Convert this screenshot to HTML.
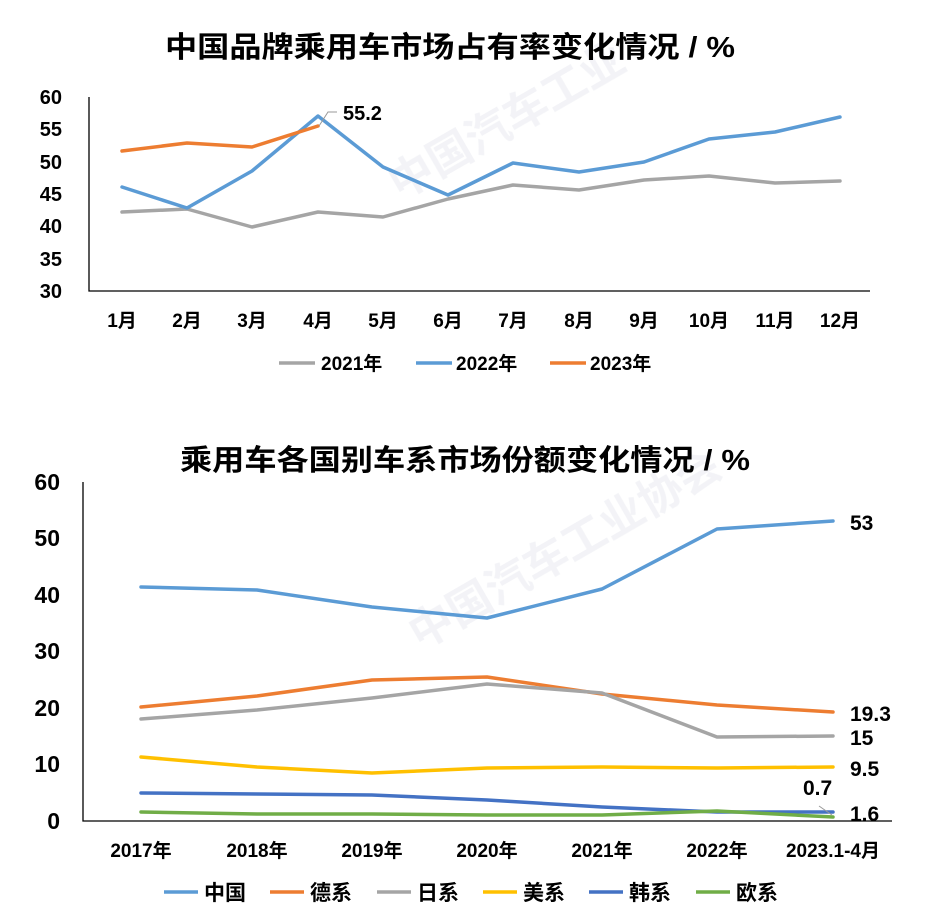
<!DOCTYPE html>
<html><head><meta charset="utf-8"><style>
html,body{margin:0;padding:0;background:#fff;}
svg{display:block;font-family:"Liberation Sans","Noto Sans CJK SC",sans-serif;font-weight:bold;}
</style></head><body>
<svg width="932" height="922" viewBox="0 0 932 922">
<g fill="#f0f1f5" opacity="0.8">
<text x="400" y="200" transform="rotate(-30 400 200)" font-size="44">中国汽车工业</text>
<text x="420" y="650" transform="rotate(-30 420 650)" font-size="44">中国汽车工业协会</text>
</g>
<text x="165" y="57" textLength="570" lengthAdjust="spacingAndGlyphs" font-size="29" fill="#000">中国品牌乘用车市场占有率变化情况 / %</text>
<g font-size="20" fill="#000" text-anchor="end">
<text x="62" y="104">60</text><text x="62" y="136">55</text><text x="62" y="169">50</text><text x="62" y="201">45</text><text x="62" y="233">40</text><text x="62" y="266">35</text><text x="62" y="298">30</text>
</g>
<polyline points="89,97 89,291 870,291" fill="none" stroke="#000" stroke-width="1.3"/>
<g font-size="19" fill="#000" text-anchor="middle">
<text x="122" y="327">1月</text><text x="187" y="327">2月</text><text x="252" y="327">3月</text><text x="318" y="327">4月</text><text x="383" y="327">5月</text><text x="448" y="327">6月</text><text x="513" y="327">7月</text><text x="579" y="327">8月</text><text x="644" y="327">9月</text><text x="709" y="327">10月</text><text x="775" y="327">11月</text><text x="840" y="327">12月</text>
</g>
<g fill="none" stroke-width="3.5" stroke-linejoin="round" stroke-linecap="round">
<polyline stroke="#a5a5a5" points="122,212 187,209 252,227 318,212 383,217 448,199 513,185 579,190 644,180 709,176 775,183 840,181"/>
<polyline stroke="#5b9bd5" points="122,187 187,208 252,171 318,116 383,167 448,195 513,163 579,172 644,162 709,139 775,132 840,117"/>
<polyline stroke="#ed7d31" points="122,151 187,143 252,147 318,126"/>
</g>
<polyline points="319,126 328,112 337,112" fill="none" stroke="#999" stroke-width="1"/>
<text x="343" y="120" font-size="20" fill="#000">55.2</text>
<g font-size="19" fill="#000">
<line x1="279" y1="363" x2="315" y2="363" stroke="#a5a5a5" stroke-width="3.5"/><text x="321" y="370">2021年</text>
<line x1="416" y1="363" x2="452" y2="363" stroke="#5b9bd5" stroke-width="3.5"/><text x="456" y="370">2022年</text>
<line x1="550" y1="363" x2="586" y2="363" stroke="#ed7d31" stroke-width="3.5"/><text x="590" y="370">2023年</text>
</g>

<text x="180" y="470" textLength="570" lengthAdjust="spacingAndGlyphs" font-size="29" fill="#000">乘用车各国别车系市场份额变化情况 / %</text>
<g font-size="23" fill="#000" text-anchor="end">
<text x="60" y="490">60</text><text x="60" y="546">50</text><text x="60" y="603">40</text><text x="60" y="659">30</text><text x="60" y="716">20</text><text x="60" y="772">10</text><text x="60" y="829">0</text>
</g>
<polyline points="83,482 83,821 892,821" fill="none" stroke="#000" stroke-width="1.3"/>
<g font-size="19" fill="#000" text-anchor="middle">
<text x="141" y="857">2017年</text><text x="257" y="857">2018年</text><text x="372" y="857">2019年</text><text x="487" y="857">2020年</text><text x="602" y="857">2021年</text><text x="717" y="857">2022年</text><text x="833" y="857">2023.1-4月</text>
</g>
<g fill="none" stroke-width="3.5" stroke-linejoin="round" stroke-linecap="round">
<polyline stroke="#5b9bd5" points="141,587 257,590 372,607 487,618 602,589 717,529 833,521"/>
<polyline stroke="#ed7d31" points="141,707 257,696 372,680 487,677 602,694 717,705 833,712"/>
<polyline stroke="#a5a5a5" points="141,719 257,710 372,698 487,684 602,693 717,737 833,736"/>
<polyline stroke="#ffc000" points="141,757 257,767 372,773 487,768 602,767 717,768 833,767"/>
<polyline stroke="#4472c4" points="141,793 257,794 372,795 487,800 602,807 717,812 833,812"/>
<polyline stroke="#70ad47" points="141,812 257,814 372,814 487,815 602,815 717,811 833,817"/>
</g>
<line x1="819" y1="806" x2="832" y2="815" stroke="#999" stroke-width="1"/>
<g font-size="21" fill="#000">
<text x="850" y="530">53</text><text x="850" y="721">19.3</text><text x="850" y="745">15</text><text x="850" y="776">9.5</text><text x="803" y="795">0.7</text><text x="850" y="821">1.6</text>
</g>
<g font-size="21" fill="#000">
<line x1="164" y1="892" x2="198" y2="892" stroke="#5b9bd5" stroke-width="3.5"/><text x="204" y="900">中国</text>
<line x1="270" y1="892" x2="304" y2="892" stroke="#ed7d31" stroke-width="3.5"/><text x="310" y="900">德系</text>
<line x1="377" y1="892" x2="411" y2="892" stroke="#a5a5a5" stroke-width="3.5"/><text x="417" y="900">日系</text>
<line x1="483" y1="892" x2="517" y2="892" stroke="#ffc000" stroke-width="3.5"/><text x="523" y="900">美系</text>
<line x1="589" y1="892" x2="623" y2="892" stroke="#4472c4" stroke-width="3.5"/><text x="629" y="900">韩系</text>
<line x1="696" y1="892" x2="730" y2="892" stroke="#70ad47" stroke-width="3.5"/><text x="736" y="900">欧系</text>
</g>
</svg>
</body></html>
